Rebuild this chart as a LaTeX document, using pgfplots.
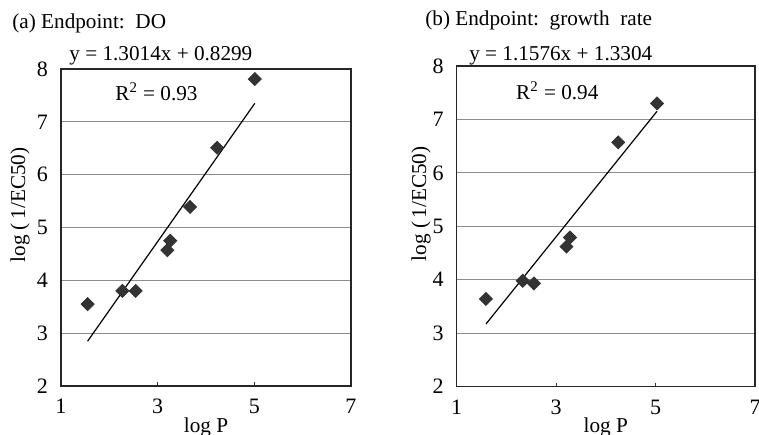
\documentclass[border=0pt]{standalone}
\usepackage{fontspec}
\setmainfont{Liberation Serif}
\usepackage{pgfplots}
\pgfplotsset{compat=1.18}
\definecolor{mk}{HTML}{333333}
\definecolor{gridc}{HTML}{8C8C8C}

\pgfplotsset{
  panel/.style={
    scale only axis, anchor=south west, clip=false,
    xmin=1, xmax=7, ymin=2, ymax=8,
    xtick={1,3,5,7}, ytick={2,3,...,8},
    ymajorgrids,
    grid style={color=gridc, line width=0.6pt},
    axis line style={line width=0.7pt, black!85},
    xtick pos=bottom, ytick pos=left, tick align=inside,
    major tick length=2pt,
    xtick style={color=black!80, line width=0.5pt},
    ytick style={draw=none},
    /pgf/number format/assume math mode=true,
    tick label style={font=\fontsize{11}{13}\selectfont},
    xticklabel style={yshift=-3pt},
    yticklabel style={xshift=-3pt},
    label style={font=\fontsize{10.6}{12}\selectfont},
    xlabel={log P},
    xlabel style={at={(axis description cs:0.5,0)}, anchor=base, yshift=-23pt},
    ylabel={log (\,1/EC50)},
  },
  pts/.style={only marks, mark=square*, mark size=2.3pt,
    mark options={rotate=45, fill=mk, draw=mk}},
  fit/.style={no marks, black, line width=0.6pt},
}

\begin{document}
\begin{tikzpicture}
\useasboundingbox (0,0) rectangle (379.5pt,217pt);

% (a) Endpoint: DO
\begin{axis}[panel, at={(30.5pt,24pt)}, width=145pt, height=158.5pt,
  ylabel style={at={(axis description cs:-0.1414,0.571)}, anchor=center}]
\addplot[pts] coordinates {
  (1.55,3.55) (2.27,3.80) (2.545,3.80) (3.20,4.57)
  (3.26,4.75) (3.67,5.39) (4.23,6.51) (5.01,7.81)};
\addplot[fit] coordinates {(1.55,2.847) (5.01,7.350)};
\node[anchor=base west, inner sep=0pt, font=\fontsize{10.6}{12}\selectfont]
  at (axis cs:1.166,8.157) {y = 1.3014x + 0.8299};
\node[anchor=base west, inner sep=0pt, font=\fontsize{10.6}{12}\selectfont]
  at (axis cs:2.117,7.40) {R\textsuperscript{2} = 0.93};
\end{axis}

% (b) Endpoint: growth rate
\begin{axis}[panel, at={(228.3pt,23.7pt)}, width=149.2pt, height=160.3pt,
  ylabel style={at={(axis description cs:-0.1193,0.570)}, anchor=center}]
\addplot[pts] coordinates {
  (1.59,3.64) (2.33,3.98) (2.555,3.93) (3.21,4.62)
  (3.28,4.79) (4.25,6.57) (5.03,7.30)};
\addplot[fit] coordinates {(1.59,3.171) (5.03,7.153)};
\node[anchor=base west, inner sep=0pt, font=\fontsize{10.6}{12}\selectfont]
  at (axis cs:1.247,8.11) {y = 1.1576x + 1.3304};
\node[anchor=base west, inner sep=0pt, font=\fontsize{10.6}{12}\selectfont]
  at (axis cs:2.19,7.38) {R\textsuperscript{2} = 0.94};
\end{axis}

\node[anchor=base west, inner sep=0pt, font=\fontsize{10.6}{12}\selectfont]
  at (6pt,202.5pt) {(a) Endpoint:\ \ DO};
\node[anchor=base west, inner sep=0pt, font=\fontsize{10.6}{12}\selectfont]
  at (212.5pt,204pt) {(b) Endpoint:\ \ growth\ \ rate};
\end{tikzpicture}
\end{document}
